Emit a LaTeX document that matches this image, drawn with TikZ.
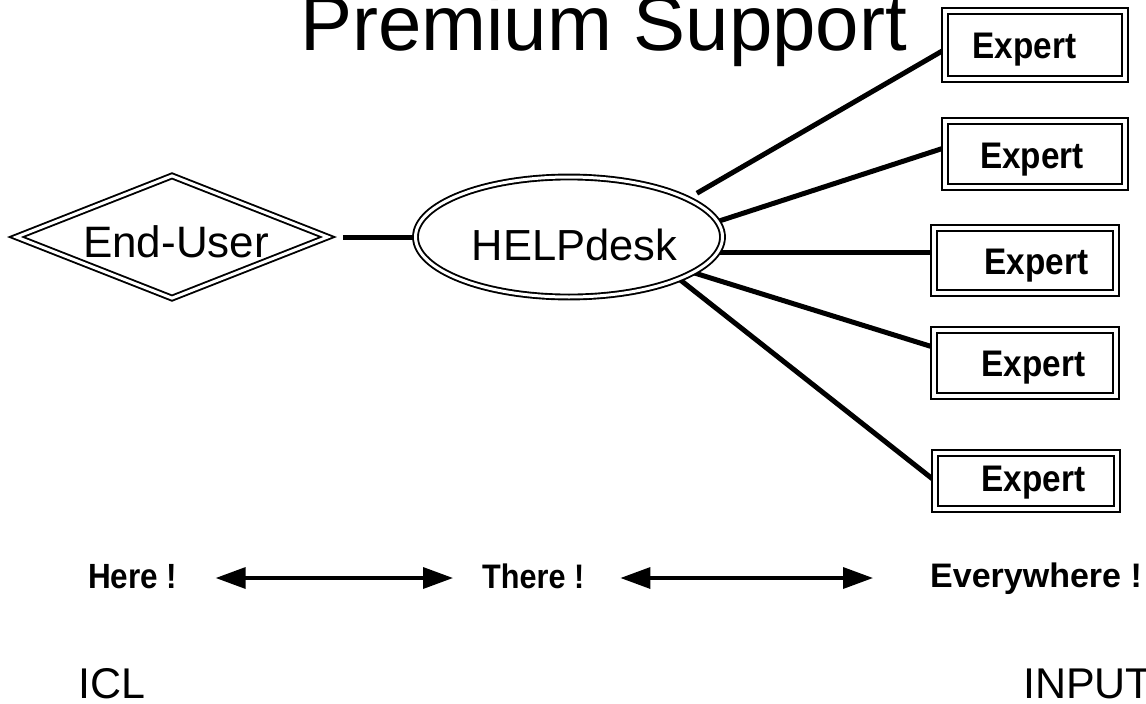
\documentclass[tikz,border=0pt]{standalone}
\usepackage{fontspec}
\setmainfont{Liberation Sans}
\newfontfamily\condsans{Liberation Sans}[FakeStretch=0.9]
\usetikzlibrary{shapes.geometric,arrows.meta,backgrounds}

\begin{document}
\begin{tikzpicture}[x=1pt,y=-1pt,
  txt/.style={inner sep=0pt, text=black},
  twin/.style={draw=black, double=white, line width=1.9pt, double distance=3pt, inner sep=0pt},
  expertbox/.style={rectangle, draw=black, double=white, line width=2.2pt, double distance=3.5pt, inner sep=0pt},
  experttext/.style={txt, anchor=base, font=\condsans\bfseries\fontsize{37}{40}\selectfont},
  place/.style={txt, anchor=base west, font=\condsans\bfseries\fontsize{35}{40}\selectfont},
  link/.style={draw=black, line width=5pt},
  span/.style={draw=black, line width=3.5pt, {Triangle[length=30pt,width=21pt]}-{Triangle[length=30pt,width=21pt]}}
]
\useasboundingbox (0,0) rectangle (1146,704);

% title
\node[txt, anchor=base west, font=\fontsize{78}{80}\selectfont] (title) at (300,50) {Premium Support};

% end user and help desk
\node[twin, diamond, aspect=2.6, minimum width=312pt, minimum height=123pt] (user) at (172,237) {};
\node[txt, anchor=base, font=\fontsize{44}{46}\selectfont] (usertext) at (176,257) {End-User};
\node[twin, ellipse, minimum width=307pt, minimum height=120pt] (help) at (569,237) {};
\node[txt, anchor=base, font=\fontsize{43.5}{46}\selectfont] (helptext) at (574.5,260) {HELPdesk};

% experts
\node[expertbox, minimum width=180pt, minimum height=68pt] (e1) at (1035,45) {};
\node[expertbox, minimum width=180pt, minimum height=66pt] (e2) at (1035,154) {};
\node[expertbox, minimum width=182pt, minimum height=65pt] (e3) at (1025,260.5) {};
\node[expertbox, minimum width=182pt, minimum height=66pt] (e4) at (1025,363) {};
\node[expertbox, minimum width=182pt, minimum height=56pt] (e5) at (1026,481) {};
\node[experttext] (t1) at (1024.5,58) {Expert};
\node[experttext] (t2) at (1032,168) {Expert};
\node[experttext] (t3) at (1036.5,274) {Expert};
\node[experttext] (t4) at (1033.5,376) {Expert};
\node[experttext] (t5) at (1033.5,491) {Expert};

% reach labels
\node[place] (here) at (88,588) {Here !};
\node[place, font=\condsans\bfseries\fontsize{34}{40}\selectfont] (there) at (482,588) {There !};
\node[place, font=\bfseries\fontsize{34}{40}\selectfont] (every) at (930,587) {Everywhere !};

% organisations
\node[txt, anchor=base west, font=\fontsize{43}{46}\selectfont] (icl) at (78,698) {ICL};
\node[txt, anchor=base west, font=\fontsize{43}{46}\selectfont] (input) at (1023,698) {INPUT};

\begin{scope}[on background layer]
  \fill[white] (0,0) rectangle (1146,704);
  \draw[link, shorten <=14pt] (user.east) -- (help.west);
  \draw[link, shorten <=10pt] (help.18.5) -- ([yshift=-5pt]e1.west);
  \draw[link] (help.6) -- ([yshift=6pt]e2.west);
  \draw[link] (help.-6.8) -- (help.-6.8 -| e3.west);
  \draw[link] (help.-16) -- ([yshift=16pt]e4.west);
  \draw[link] (help.-21.4) -- ([yshift=1pt]e5.west);
\end{scope}

% arrows between the labels
\draw[span] ([shift={(38pt,10pt)}]here.base east) -- ([shift={(-29pt,10pt)}]there.base west);
\draw[span] ([shift={(36pt,10pt)}]there.base east) -- ([shift={(-57pt,9pt)}]every.base west);
\end{tikzpicture}
\end{document}
